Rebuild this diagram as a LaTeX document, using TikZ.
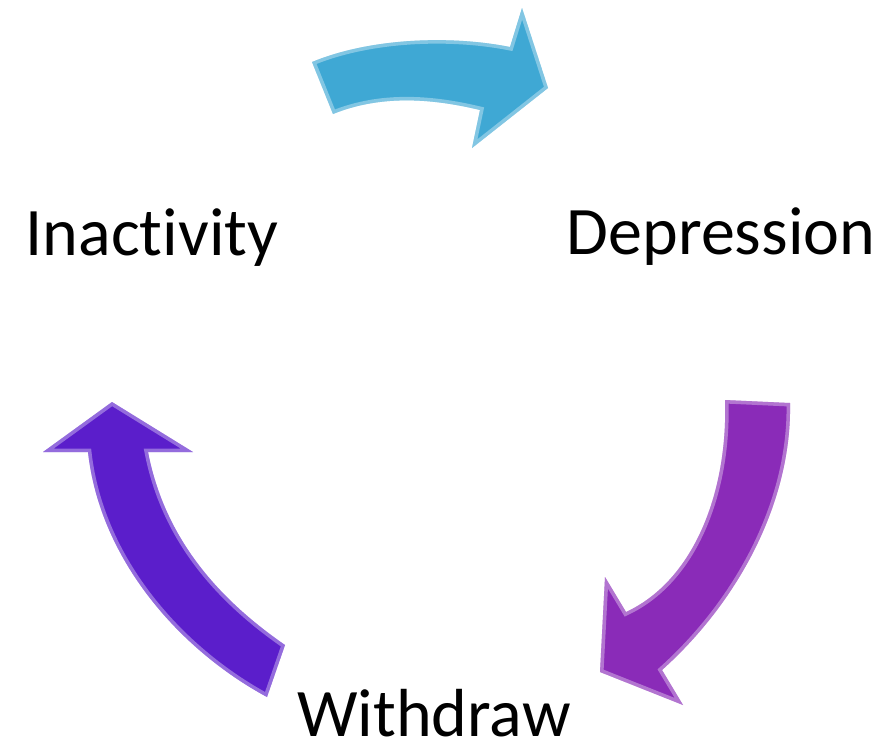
\documentclass[tikz,border=0pt]{standalone}
\usepackage{fontspec}
\setmainfont{Carlito}[Ligatures=NoCommon]
\begin{document}
\begin{tikzpicture}[x=1pt,y=-1pt,
  lbl/.style={inner sep=0pt,anchor=base,font=\fontsize{68}{80}\selectfont},
  bevel/.style={draw=white,draw opacity=0.35,line width=7pt,line join=miter}]
\definecolor{cyanA}{HTML}{3FA8D4}
\definecolor{purpA}{HTML}{8A2BB8}
\definecolor{indA}{HTML}{5B1ECB}
\useasboundingbox (0,0) rectangle (885,748);
\fill[white] (0,0) rectangle (885,748);

% top arrow (cyan)
\def\topArrow{(312,62) .. controls (370,38) and (450,35) .. (510,47) -- (522,8) -- (548,88) -- (472,148) -- (480,110) .. controls (430,98) and (380,95) .. (333,114) -- cycle}
\begin{scope}
  \fill[cyanA] \topArrow;
  \clip \topArrow;
  \draw[bevel] \topArrow;
\end{scope}

% right arrow (purple)
\def\rightArrow{(725,400) -- (790,403) .. controls (792,500) and (740,600) .. (662,670) -- (683,705) -- (600,672) -- (605,577) -- (626,612) .. controls (695,580) and (728,490) .. (725,400) -- cycle}
\begin{scope}
  \fill[purpA] \rightArrow;
  \clip \rightArrow;
  \draw[bevel] \rightArrow;
\end{scope}

% left arrow (indigo)
\def\leftArrow{(112,402) -- (193,452) -- (148,452) .. controls (165,540) and (220,600) .. (285,645) -- (267,697) .. controls (180,650) and (100,560) .. (88,452) -- (43,452) -- cycle}
\begin{scope}
  \fill[indA] \leftArrow;
  \clip \leftArrow;
  \draw[bevel] \leftArrow;
\end{scope}

\node[lbl] (inact) at (152,255) {Inactivity};
\node[lbl] (depr) at (721,254) {Depression};
\node[lbl] (withd) at (434,736) {Withdraw};
\end{tikzpicture}
\end{document}
